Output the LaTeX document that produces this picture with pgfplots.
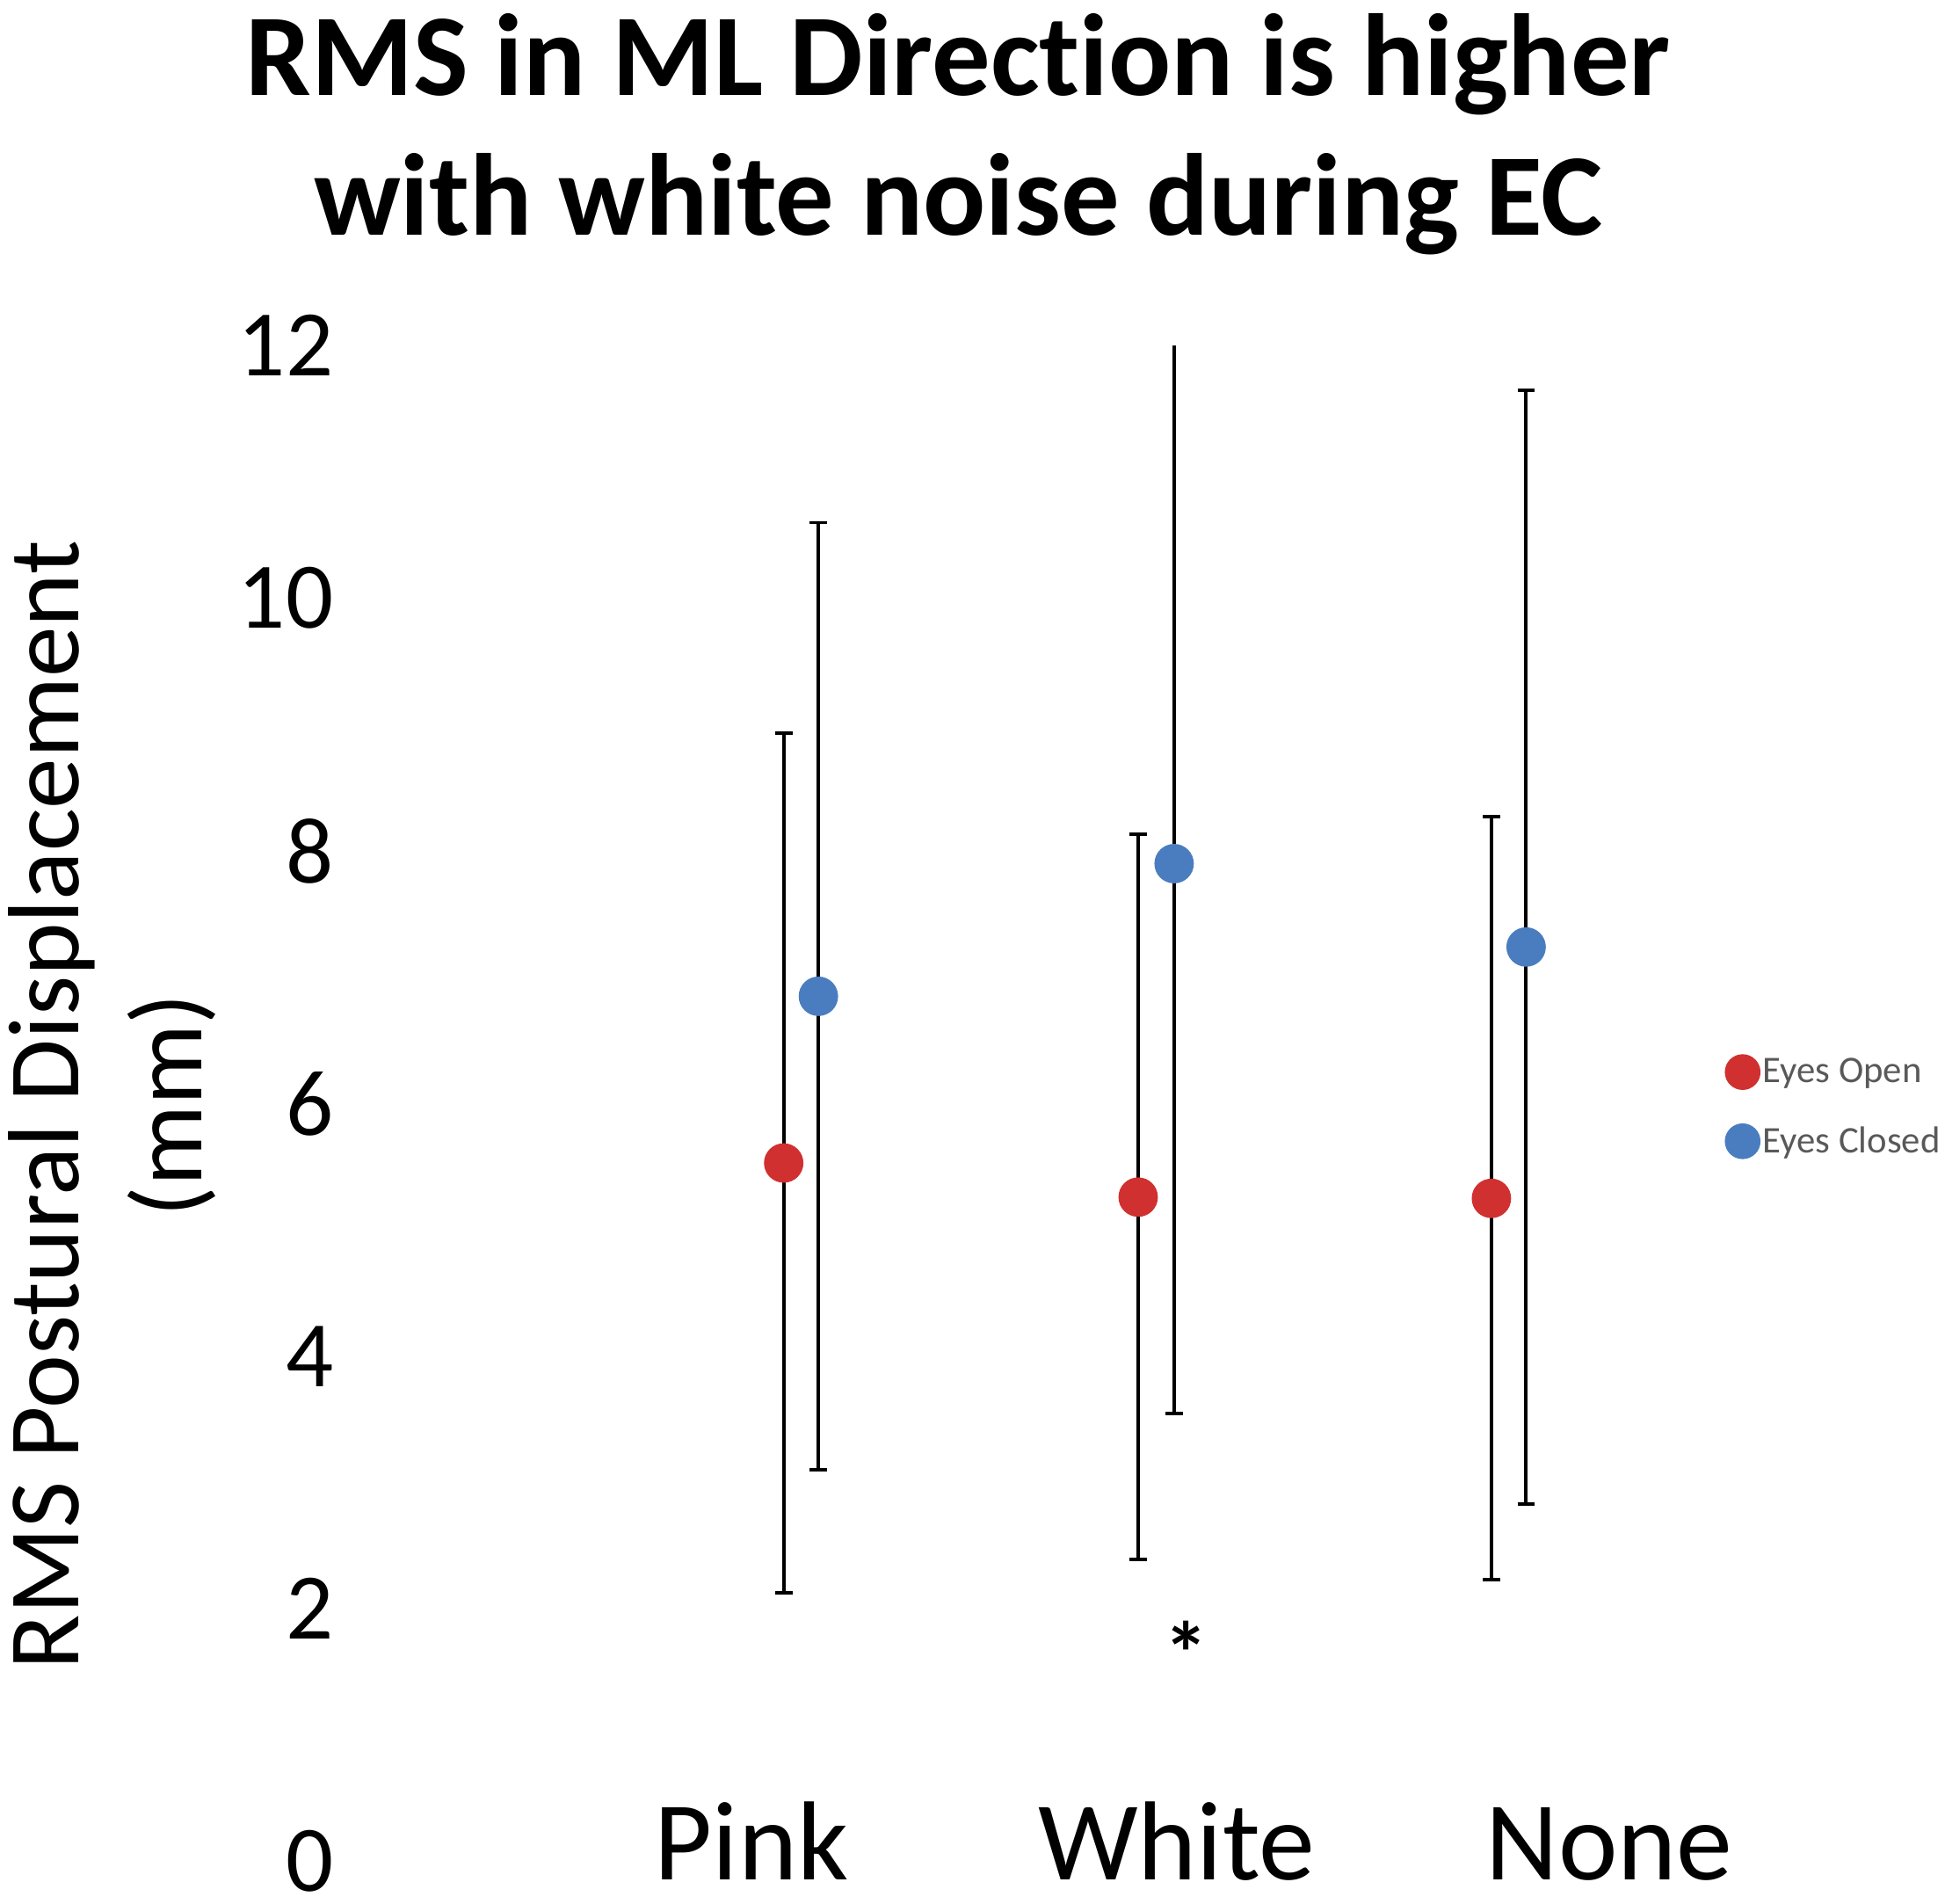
\documentclass[border=0pt]{standalone}
\usepackage{pgfplots}
\pgfplotsset{compat=1.18}
\usepackage{fontspec}
\setmainfont[Ligatures=NoCommon]{Carlito}
\definecolor{eored}{HTML}{D0302F}
\definecolor{ecblue}{HTML}{4A7DBF}
\definecolor{leggray}{HTML}{595959}

\pgfplotstableread{
x y e
631 5.53 3.40
917 5.26 2.87
1202 5.25 3.02
}\eyesopen
\pgfplotstableread{
x y e
659 6.85 3.75
946 7.90 4.35
1230 7.24 4.41
}\eyesclosed

\begin{document}
\begin{tikzpicture}
\begin{axis}[
  scale only axis,
  width=560bp, height=611.4bp,
  xmin=280, xmax=1400,
  ymin=0, ymax=12,
  clip mode=individual,
  axis line style={draw=none},
  major tick length=0pt,
  ytick={0,2,4,6,8,10,12},
  xtick={605,948,1297},
  xticklabels={Pink,White,None},
  /pgf/number format/assume math mode=true,
  yticklabel style={font=\fontsize{38}{45}\selectfont, anchor=east, inner sep=0pt, xshift=-6bp},
  xticklabel style={font=\fontsize{45.5}{54}\selectfont, anchor=base, inner sep=0pt, yshift=-7.5bp},
  legend style={at={(axis description cs:0.991,0.498)}, anchor=west, draw=none, fill=none,
    font=\fontsize{15.2}{18}\selectfont\color{leggray}, row sep=13.5bp, inner sep=0pt,
    nodes={inner sep=1bp}},
  legend cell align=left,
  legend image code/.code={\fill (0bp,0bp) circle (7bp);},
]
\path (axis description cs:-0.25,-0.0278) rectangle (axis description cs:1.15,1.2281);
% error bars
\addplot[forget plot, draw=none, mark=none,
  error bars/.cd, y dir=both, y explicit,
  error bar style={draw=black, line width=1.4bp},
  error mark options={rotate=90, draw=black, mark size=3.5bp, line width=1.4bp}]
  table[x=x, y=y, y error=e] {\eyesopen};
\addplot[forget plot, draw=none, mark=none,
  error bars/.cd, y dir=both, y explicit,
  error bar style={draw=black, line width=1.4bp},
  error mark options={rotate=90, draw=black, mark size=3.5bp, line width=1.4bp}]
  table[x=x, y=y, y error=e] {\eyesclosed};
% means
\addplot[only marks, eored, mark=*, mark size=7.75bp, mark options={draw=none, fill=eored}]
  table[x=x, y=y] {\eyesopen};
\addlegendentry{Eyes Open}
\addplot[only marks, ecblue, mark=*, mark size=7.75bp, mark options={draw=none, fill=ecblue}]
  table[x=x, y=y] {\eyesclosed};
\addlegendentry{Eyes Closed}
% annotations
\node[font=\fontsize{36}{42}\selectfont\bfseries, anchor=base] at (axis cs:956,1.40) {*};
\node[font=\fontsize{47.2}{56}\selectfont\bfseries, anchor=base] at (axis description cs:0.439,1.165) {RMS in ML Direction is higher};
\node[font=\fontsize{47.2}{56}\selectfont\bfseries, anchor=base] at (axis description cs:0.439,1.0728) {with white noise during EC};
\node[font=\fontsize{41}{49}\selectfont, rotate=90, anchor=base] at (axis description cs:-0.1946,0.499) {RMS Postural Displacement};
\node[font=\fontsize{41}{49}\selectfont, rotate=90, anchor=base] at (axis description cs:-0.106,0.499) {(mm)};
\end{axis}
\end{tikzpicture}
\end{document}
